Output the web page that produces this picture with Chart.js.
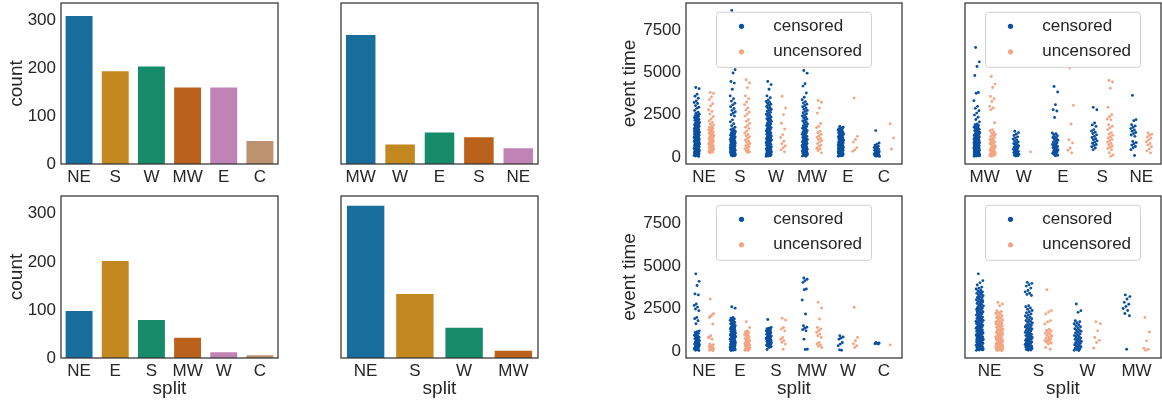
<!DOCTYPE html>
<html><head><meta charset="utf-8">
<script src="https://cdn.jsdelivr.net/npm/chart.js@4/dist/chart.umd.min.js"></script>
<style>
html,body{margin:0;padding:0;background:#fff;width:1162px;height:404px;overflow:hidden;position:relative}
canvas{position:absolute}
</style></head><body>
<canvas id="b1"></canvas><canvas id="b2"></canvas><canvas id="b3"></canvas><canvas id="b4"></canvas>
<canvas id="s1"></canvas><canvas id="s2"></canvas><canvas id="s3"></canvas><canvas id="s4"></canvas>
<script>
// ---------- bar charts (counts per split) ----------
const barCatsTL = ['NE','S','W','MW','E','C'];
const barValsTL = [312,196,206,162,162,50];
const barCatsTR = ['MW','W','E','S','NE'];
const barValsTR = [272,43,68,58,35];
const barCatsBL = ['NE','E','S','MW','W','C'];
const barValsBL = [100,204,81,44,14,8];
const barCatsBR = ['NE','S','W','MW'];
const barValsBR = [319,135,65,17];
const countTicks = [0,100,200,300];
const timeTicks = [0,2500,5000,7500];

// ---------- strip charts (event time) ----------
const stripCatsA = ['NE','S','W','MW','E','C'];
const censA = [
 [4120,4050,3720,3600,3480,3320,3230,3170,3040,2950,2880,2760,2650,2590,2530,2490,2450,2400,2380,2330,2300,2270,2220,2190,2170,2110,2090,2040,2010,1990,1950,1920,1900,1860,1840,1810,1780,1760,1720,1700,1680,1650,1620,1590,1580,1550,1520,1500,1470,1460,1430,1410,1380,1370,1340,1320,1290,1270,1250,1240,1210,1190,1170,1150,1140,1110,1090,1070,1050,1030,1010,990,970,950,930,920,890,870,860,830,810,790,770,750,740,710,690,680,650,630,610,590,570,560,530,510,490,470,450,430,420,390,370,350,330,310,290,270,250,240,210,190,170,150,130,110,90,70,50,30,1820,1530,1240,980,760,540,330,140,1610,1150,880,620,410,220],
 [8690,5170,4980,4470,4380,4010,3620,3450,3310,3180,3090,2980,2870,2760,2680,2590,2500,2420,2200,2080,1970,1850,1760,1680,1620,1580,1530,1490,1450,1400,1360,1320,1290,1250,1220,1190,1150,1120,1090,1060,1030,1000,970,950,920,900,870,850,820,800,780,750,730,710,690,670,650,630,610,590,570,550,530,510,490,470,450,430,410,390,370,350,330,310,290,270,250,230,210,190,170,150,130,110,90,70,50],
 [4470,4290,4010,3620,3510,3380,3290,3240,3170,3120,3060,2990,2930,2870,2810,2760,2700,2640,2580,2530,2480,2420,2370,2310,2260,2210,2160,2110,2060,2010,1960,1910,1870,1820,1780,1740,1700,1660,1620,1580,1540,1500,1460,1420,1390,1350,1310,1280,1240,1210,1180,1140,1110,1080,1050,1020,990,960,930,900,870,840,810,780,750,720,690,660,640,610,580,560,530,510,480,460,430,410,390,360,340,320,290,270,250,230,210,190,170,150,130,110,90,70,50,40,1230,870,560,340,150,2240,1690,1020,730,460],
 [5130,4970,4340,4200,3790,3540,3390,3280,3200,3130,3050,2980,2900,2830,2760,2700,2620,2560,2490,2430,2370,2310,2250,2190,2130,2070,2010,1960,1900,1850,1800,1750,1700,1650,1600,1560,1510,1470,1430,1390,1340,1300,1260,1220,1190,1150,1110,1080,1040,1010,980,950,920,890,860,830,800,770,740,720,690,660,640,610,590,560,540,510,490,460,440,420,390,370,350,320,300,280,250,230,210,190,160,140,120,100,80,60,40],
 [1810,1760,1720,1680,1650,1610,1580,1540,1510,1480,1450,1420,1390,1360,1330,1300,1270,1250,1220,1190,1170,1140,1120,1090,1070,1040,1020,990,970,950,930,900,880,860,840,820,800,780,760,740,720,700,680,660,640,620,600,580,560,540,520,500,480,460,440,420,400,380,360,340,320,300,280,260,240,220,200,180,160,140,120,100,80,60,40,1530,1260,990,770,560,350,150,1380,1110,880,650,430,230,70],
 [1560,830,760,700,640,600,560,520,480,450,420,390,360,330,300,280,250,230,200,180,160,140,120,100,80,60,40,30]
];
const uncA = [
 [3830,3760,3550,3400,3150,3020,2800,2690,2540,2380,2250,2130,2050,1960,1890,1820,1760,1700,1650,1610,1570,1520,1480,1430,1390,1350,1310,1270,1240,1200,1160,1120,1080,1040,1000,960,930,880,850,810,770,740,700,660,620,590,550,510,480,440,410,380,340,310,280,250],
 [4580,4390,4110,3620,3450,3260,3100,2900,2790,2660,2540,2420,2210,2110,1990,1870,1760,1680,1540,1420,1330,1260,1180,1090,1000,940,870,800,730,660,600,540,480,410,350,300,260],
 [3600,2900,2510,2000,1650,1320,1150,930,780,650,550,420,300],
 [3350,3240,2900,2600,1980,1810,1740,1520,1430,1340,1260,1170,1090,1030,960,880,790,700,620,520,470,380,240],
 [3490,1220,1030,880,550,420,330],
 [1970,1120,470]
];

const stripCatsB = ['MW','W','E','S','NE'];
const censB = [
 [6490,5640,5360,4830,3820,3780,3330,3000,2880,2740,2600,2480,2350,2220,2080,1950,1910,1860,1810,1760,1720,1680,1640,1600,1560,1520,1480,1450,1420,1380,1350,1320,1290,1260,1230,1200,1170,1140,1110,1080,1050,1020,1000,970,940,920,890,870,840,820,790,770,750,720,700,680,660,640,610,590,570,550,530,510,490,470,450,430,410,390,370,350,330,310,290,270,250,230,210,190,170,150,130,110,90,70,50,40,1730,1590,1440,1310,1180,1060,950,840,730,630,520,420,320,220,120,60,880,660,470,280,130],
 [1520,1440,1350,1270,1190,1130,1060,1000,950,890,840,790,740,700,650,610,570,530,490,450,410,370,330,300,260,230,190,160,130,100,70,50],
 [4180,3850,3100,2800,2720,2340,1420,1370,1320,1260,1200,1150,1090,1040,990,940,890,840,790,740,700,660,620,580,540,500,460,420,380,340,300,260,220,180,140,100,60],
 [2940,2800,2010,1900,1810,1620,1540,1470,1390,1310,1220,1150,1080,1020,950,880,810,740,680,600,530,430],
 [3650,2210,2150,1910,1840,1760,1680,1600,1530,1450,1380,1300,1220,920,850,780,700,620,540,430,80]
];
const uncB = [
 [4770,4320,4120,3590,3450,3290,3000,2900,2800,2030,1620,1550,1480,1410,1350,1290,1220,1160,1100,1040,980,930,880,820,770,720,670,620,580,530,490,440,400,360,320,280,240,200,160,120,90,60,40,1300,1050,800,560,330,150],
 [300],
 [5270,3060,1950,1020,830,530,400,240],
 [4530,4440,4080,2940,2500,2380,2250,2200,1910,1820,1720,1620,1440,1360,1280,1200,1120,1040,960,880,800,720,650,580,500,430,250,120,35],
 [1420,1350,1270,1180,1100,1000,900,800,700,600,480,360,240]
];

const stripCatsC = ['NE','E','S','MW','W','C'];
const censC = [
 [4540,4100,3850,3360,3300,2760,2680,2580,2470,2370,1970,1900,1780,1600,1180,1130,1080,1030,980,930,880,840,800,760,720,680,640,600,560,520,480,440,400,360,320,290,250,220,180,150,110,80,40,20,1060,900,700,540,380,230],
 [2600,2520,1970,1930,1880,1840,1800,1760,1720,1680,1640,1600,1560,1520,1480,1440,1400,1370,1330,1300,1260,1230,1200,1170,1140,1110,1080,1050,1020,990,960,930,900,870,840,810,790,760,730,710,680,660,630,610,580,560,540,510,490,470,450,420,400,380,360,340,320,300,280,260,240,220,200,180,160,140,120,100,80,60,40,20,1350,1150,950,760,590,430,280,130,1250,1060,860,690,520,370,200,60],
 [1850,1380,1340,1300,1260,1220,1180,1140,1100,1060,1020,980,940,900,870,840,810,780,750,720,690,660,630,600,570,540,510,480,450,420,390,360,330,300,270,240,200,80,1150,920,750,560,400],
 [4300,4220,4140,4040,3650,3600,3000,2170,1480,1400,1330,1250,1180,690,100,80],
 [890,820,760,690,490,400,300,40,60],
 [490,460,440,420,400]
];
const uncC = [
 [3060,2190,2100,1970,1580,890,800,690,410,360,310,260,210,160,120,80,40,10,2050,780],
 [1720,1380,1180,1130,1080,1020,970,920,870,820,770,720,680,640,600,560,520,480,450,420,390,360,330,300,270,240,210,180,150,120,90,60,40,20,500,350,220,100],
 [1930,1820,1380,1290,1180,790,690,600,500,400,100],
 [2860,2530,1880,1380,1290,1190,1090,990,890,790,490,420,350,280,200],
 [2570,790,600,420,300,200],
 [355]
];

const stripCatsD = ['NE','S','W','MW'];
const censD = [
 [4540,4140,4010,3880,3760,3700,3650,3590,3540,3480,3440,3390,3340,3290,3250,3200,3150,3110,3060,3010,2970,2920,2880,2830,2790,2740,2700,2650,2610,2570,2520,2480,2440,2400,2350,2310,2270,2230,2190,2150,2110,2070,2030,1990,1950,1910,1870,1830,1800,1760,1720,1680,1650,1610,1570,1540,1500,1470,1430,1400,1360,1330,1290,1260,1230,1190,1160,1130,1100,1060,1030,1000,970,940,910,880,850,820,790,760,730,700,670,640,620,590,560,530,510,480,450,430,400,380,350,330,300,280,250,230,200,180,160,130,110,90,70,50,30,3420,3180,2960,2710,2460,2210,1980,1740,1520,1310,1080,870,650,420,210,60,2850,2330,1850,1380,950,520,150],
 [4040,3980,3900,3820,3700,3560,3480,3400,3330,3260,2660,2600,2530,2450,2380,2310,2250,2180,2120,2060,2000,1950,1890,1840,1790,1740,1690,1640,1590,1550,1500,1460,1410,1370,1330,1290,1250,1210,1170,1130,1090,1050,1010,970,940,900,860,830,790,760,720,690,660,620,590,560,530,500,470,440,410,380,350,320,290,260,230,200,170,140,110,80,50,30,1420,1000,600,250],
 [2760,2370,2270,1780,1720,1660,1600,1540,1480,1420,1360,1300,1250,1200,1150,1100,1050,1000,950,900,850,800,760,720,680,640,600,560,520,480,440,400,360,320,280,240,200,160,120,80,40,20],
 [3300,3200,3060,2860,2750,2620,2500,2380,2200,2070,100]
];
const uncD = [
 [2860,2760,2660,2370,2320,2270,2220,2170,2120,2070,2020,1970,1920,1870,1820,1770,1730,1680,1640,1590,1550,1510,1470,1430,1390,1350,1310,1270,1230,1190,1150,1110,1080,1040,1000,970,930,900,860,830,800,770,740,710,680,650,620,590,560,530,500,480,450,420,400,370,350,320,300,280,250,230,210,190,170,150,130,110,90,70,50,30,10,1950,1700,1480,1260,1050,860,690,540,390,260,140,40,1600,1120,760,460,200],
 [3610,2370,2290,2170,1780,1700,1580,1280,1220,1160,1100,1040,980,920,870,810,760,700,650,600,550,500,460,400,200,100,1150,880,720,540],
 [1720,1600,1180,790,620,490,160],
 [1970,1120,590,160,90,40]
];

// ---------- styling ----------
const FONT = "'Liberation Sans', Arial, Helvetica, sans-serif";
const TXT = '#262626';
const barPalette = ['#176E9C','#C38820','#168B6A','#BA611B','#C183B6','#BD926E'];
const CENS = '#0a50a0', UNC = '#f4a582';

const boxPlugin = {id:'box', afterDatasetsDraw(chart){
  const a = chart.chartArea, c = chart.ctx;
  c.save(); c.strokeStyle = '#333'; c.lineWidth = 1.25;
  c.strokeRect(a.left, a.top, a.right - a.left, a.bottom - a.top); c.restore();
}};

function legendPlugin(){
  return {id:'strLegend', afterDraw(chart){
    const a = chart.chartArea, c = chart.ctx;
    const w = 155, h = 55;
    const x = (a.left + a.right)/2 - w/2, y = a.top + 9.3;
    c.save();
    c.beginPath();
    const r = 3;
    c.moveTo(x + r, y); c.lineTo(x + w - r, y); c.quadraticCurveTo(x + w, y, x + w, y + r);
    c.lineTo(x + w, y + h - r); c.quadraticCurveTo(x + w, y + h, x + w - r, y + h);
    c.lineTo(x + r, y + h); c.quadraticCurveTo(x, y + h, x, y + h - r);
    c.lineTo(x, y + r); c.quadraticCurveTo(x, y, x + r, y); c.closePath();
    c.fillStyle = 'rgba(255,255,255,0.8)'; c.fill();
    c.strokeStyle = '#d0d0d0'; c.lineWidth = 1; c.stroke();
    const rows = [['censored', CENS, y + 14], ['uncensored', UNC, y + 39.5]];
    c.font = '17px ' + FONT; c.textBaseline = 'middle'; c.textAlign = 'left';
    rows.forEach(([t, col, yy]) => {
      c.beginPath(); c.arc(x + 25, yy, 2.6, 0, Math.PI*2); c.fillStyle = col; c.fill();
      c.fillStyle = TXT; c.fillText(t, x + 56.7, yy);
    });
    c.restore();
  }};
}

const ROWS = [{top:0, T:3, h:161, B:26}, {top:190, T:6, h:162, B:46}];
const COLS = [{left:0, L:61, w:217, R:3}, {left:301, L:20, w:217, R:3}, {left:610, L:76, w:216, R:3}, {left:925, L:20, w:216, R:1}];

function place(id, r, c){
  const cv = document.getElementById(id);
  cv.width = c.L + c.w + c.R; cv.height = r.T + r.h + r.B;
  cv.style.left = c.left + 'px'; cv.style.top = r.top + 'px';
  return cv;
}

function xScaleBase(r, showTitle){
  return {
    grid:{display:false, drawTicks:false}, border:{display:false},
    ticks:{color:TXT, font:{family:FONT, size:17}, padding:3, maxRotation:0, autoSkip:false},
    title:{display:showTitle, text:'split', color:TXT, font:{family:FONT, size:19}, padding:{top:0, bottom:3.6}},
    afterFit(s){ s.height = r.B; s.paddingLeft = 0; s.paddingRight = 0; }
  };
}
function yScaleBase(c, show, title, titlePad, min, max, tickVals){
  return {
    display:show, min:min, max:max,
    afterBuildTicks(s){ s.ticks = tickVals.map(v => ({value:v})); },
    grid:{display:false, drawTicks:false}, border:{display:false},
    ticks:{color:TXT, font:{family:FONT, size:17}, padding:5, callback:(v) => String(v)},
    title:{display:show, text:title, color:TXT, font:{family:FONT, size:19}, padding:{top:titlePad, bottom:0}},
    afterFit(s){ s.width = c.L; s.paddingTop = 0; s.paddingBottom = 0; }
  };
}

function makeBar(id, r, c, cats, vals, showY, showX){
  const cv = place(id, r, c);
  new Chart(cv, {
    type:'bar',
    data:{labels:cats, datasets:[{data:vals, backgroundColor:cats.map((_, i) => barPalette[i]),
      borderColor:'rgba(255,255,255,0.5)', borderWidth:1, barPercentage:0.8, categoryPercentage:1}]},
    options:{
      responsive:false, animation:false, events:[],
      layout:{autoPadding:false, padding:{left:showY ? 0 : c.L, right:c.R, top:r.T, bottom:0}},
      plugins:{legend:{display:false}, tooltip:{enabled:false}},
      scales:{x:Object.assign({type:'category', offset:true}, xScaleBase(r, showX)),
              y:yScaleBase(c, showY, 'count', 5, 0, 337, countTicks)}
    },
    plugins:[boxPlugin]
  });
}

function jit(k){ return (((k * 0.6180339887 + 0.31) % 1) - 0.5) * 0.15; }
function stripPoints(arrs, off){
  const pts = [];
  arrs.forEach((vals, ci) => vals.forEach((v, k) => pts.push({x: ci + off + jit(k), y: v})));
  return pts;
}

function makeStrip(id, r, c, cats, cens, unc, showY, showX){
  const cv = place(id, r, c);
  new Chart(cv, {
    type:'scatter',
    data:{datasets:[
      {label:'censored', data:stripPoints(cens, -0.2), pointRadius:1.45, pointBackgroundColor:CENS, pointBorderWidth:0, pointHoverRadius:1.45},
      {label:'uncensored', data:stripPoints(unc, 0.2), pointRadius:1.45, pointBackgroundColor:UNC, pointBorderWidth:0, pointHoverRadius:1.45}
    ]},
    options:{
      responsive:false, animation:false, events:[],
      layout:{autoPadding:false, padding:{left:showY ? 0 : c.L, right:c.R, top:r.T, bottom:0}},
      plugins:{legend:{display:false}, tooltip:{enabled:false}},
      scales:{
        x:Object.assign({type:'linear', min:-0.5, max:cats.length - 0.5,
            afterBuildTicks(s){ s.ticks = cats.map((_, i) => ({value:i})); }}, xScaleBase(r, showX),
            {ticks:{color:TXT, font:{family:FONT, size:17}, padding:3, maxRotation:0, autoSkip:false, callback:(v, i) => cats[i]}}),
        y:yScaleBase(c, showY, 'event time', 8.6, -420, 9130, timeTicks)
      }
    },
    plugins:[boxPlugin, legendPlugin()]
  });
}

makeBar('b1', ROWS[0], COLS[0], barCatsTL, barValsTL, true, false);
makeBar('b2', ROWS[0], COLS[1], barCatsTR, barValsTR, false, false);
makeBar('b3', ROWS[1], COLS[0], barCatsBL, barValsBL, true, true);
makeBar('b4', ROWS[1], COLS[1], barCatsBR, barValsBR, false, true);
makeStrip('s1', ROWS[0], COLS[2], stripCatsA, censA, uncA, true, false);
makeStrip('s2', ROWS[0], COLS[3], stripCatsB, censB, uncB, false, false);
makeStrip('s3', ROWS[1], COLS[2], stripCatsC, censC, uncC, true, true);
makeStrip('s4', ROWS[1], COLS[3], stripCatsD, censD, uncD, false, true);
</script>
</body></html>
